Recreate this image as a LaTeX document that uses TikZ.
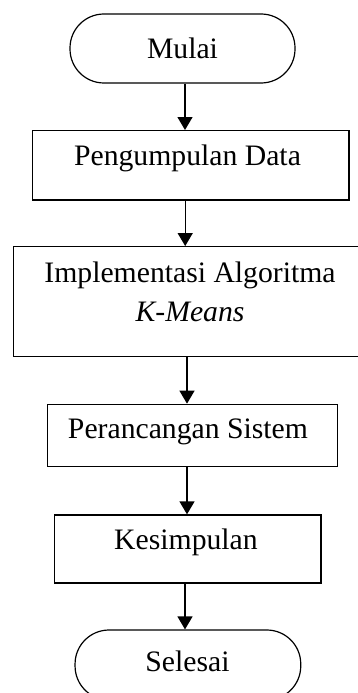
\documentclass[tikz,border=0pt]{standalone}
\usepackage{fontspec}
\setmainfont{Liberation Serif}
\usetikzlibrary{arrows.meta}
\begin{document}
\begin{tikzpicture}[x=1pt,y=-1pt,
  box/.style={draw, line width=1.3pt, rectangle, inner sep=0pt},
  term/.style={draw, line width=1.2pt, rectangle, rounded corners=34pt, inner sep=0pt},
  txt/.style={anchor=base, inner sep=0pt, font=\fontsize{29.7}{40}\selectfont},
  arr/.style={line width=1.3pt, -{Triangle[width=15pt,length=13pt]}}]
\clip (0,0) rectangle (358,693);
\fill[white] (0,0) rectangle (358,693);
% shapes
\node[term, minimum width=225pt, minimum height=69pt] (mulai) at (182.5,48.5) {};
\node[box, minimum width=316.7pt, minimum height=69.3pt] (peng) at (190.7,165.3) {};
\node[box, minimum width=350pt, minimum height=110pt] (impl) at (188.5,301.7) {};
\node[box, minimum width=290pt, minimum height=62.4pt] (per) at (192.3,435.5) {};
\node[box, minimum width=266.7pt, minimum height=68pt] (kes) at (187.7,549) {};
\node[term, minimum width=225.7pt, minimum height=70pt] (sel) at (187.9,665) {};
% texts
\node[txt] (tmulai) at (182.5,58.3) {Mulai};
\node[txt] (tpeng) at (187.5,165.7) {Pengumpulan Data};
\node[txt] (timpl1) at (190,282.7) {Implementasi Algoritma};
\node[txt] (timpl2) at (190,321.7) {\itshape K-Means};
\node[txt] (tper) at (188,438.3) {Perancangan Sistem};
\node[txt] (tkes) at (186,549) {Kesimpulan};
\node[txt] (tsel) at (187.5,671.7) {Selesai};
% connectors
\draw[arr] ([xshift=2.5pt]mulai.south) -- ([xshift=2.5pt]mulai.south |- peng.north);
\draw[arr] ([xshift=-5.5pt]peng.south) -- ([xshift=-5.5pt]peng.south |- impl.north);
\draw[arr] ([xshift=-1.5pt]impl.south) -- ([xshift=-1.5pt]impl.south |- per.north);
\draw[arr] ([xshift=-5.3pt]per.south) -- ([xshift=-5.3pt]per.south |- kes.north);
\draw[arr] ([xshift=-2.7pt]kes.south) -- ([xshift=-2.7pt]kes.south |- sel.north);
\end{tikzpicture}
\end{document}
